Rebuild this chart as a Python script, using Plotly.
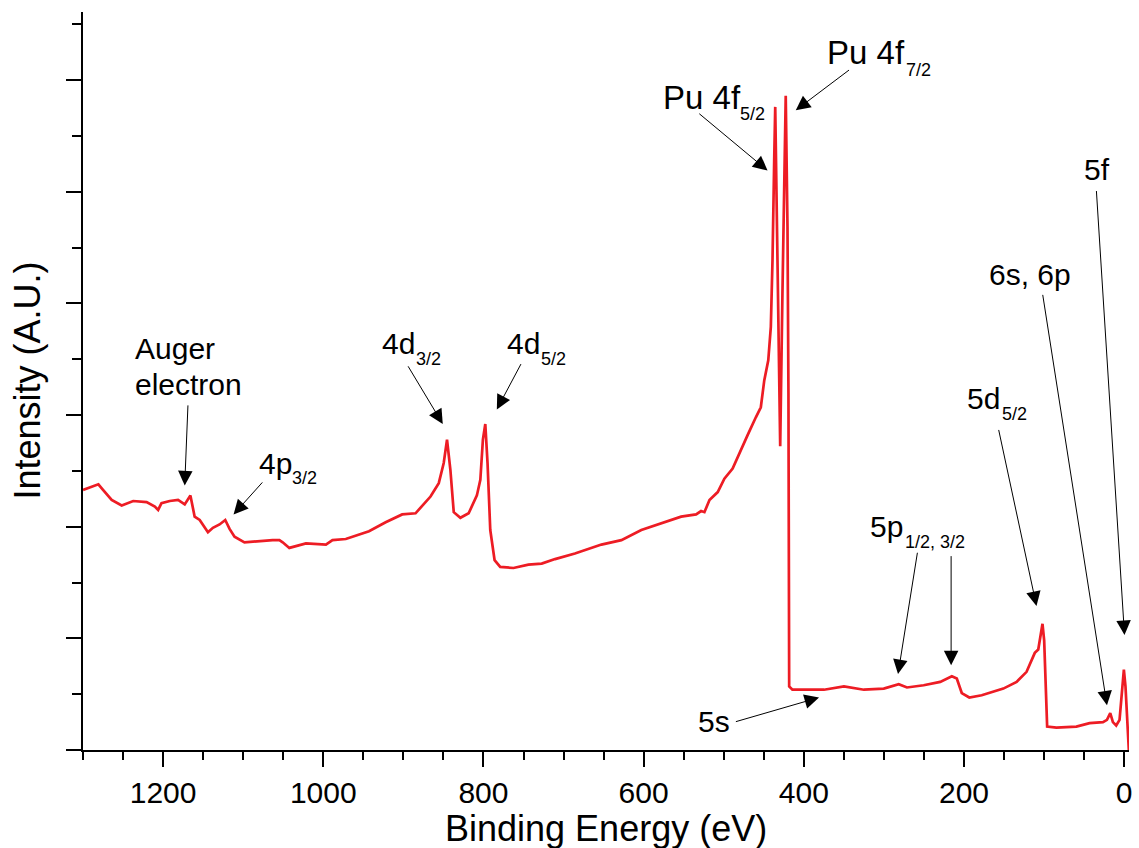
import plotly.graph_objects as go

# ---------------- data ----------------
energy = [1300, 1291.2, 1280.8, 1275, 1264.2, 1251.7, 1237.3, 1220.6, 1210.3, 1206.2,
          1202, 1191.7, 1181.3, 1173, 1165.9, 1160.6, 1154.3, 1144, 1137.8, 1129.5,
          1122.4, 1117, 1110.8, 1098.4, 1079.7, 1071.4, 1063.2, 1054.8, 1050.7, 1042.4,
          1021.6, 996.7, 988.5, 971.9, 951.2, 942.9, 922.1, 901.5, 884.8, 866.1,
          855.8, 849.6, 845.5, 841.3, 837.1, 828.8, 818.5, 808.2, 803.9, 800.7,
          797.7, 794.9, 791.5, 786.1, 779.1, 762.5, 743.9, 727.3, 710.6, 685.8,
          652.7, 627.8, 602.9, 578.1, 553.2, 534.5, 528.3, 524.1, 517.8, 507.5,
          499.2, 488.9, 480.5, 470.2, 459.9, 453.7, 449.4, 444.4, 441.2, 439.1,
          437, 435.7, 432.9, 430.8, 429.5, 426.7, 423.8, 422.6, 420.4, 419.2,
          418.3, 414.2, 391.5, 374.8, 349.9, 325, 300.2, 281.5, 271.2, 250.4,
          229.7, 215.2, 209, 202.8, 193.4, 177.9, 150.9, 134.3, 121.9, 115.7,
          111.6, 107.3, 104.5, 102, 99.9, 97.9, 96.2, 84.6, 59.7, 43.2,
          26.5, 21.5, 17.4, 14.1, 10, 5.8, 2.9, 0.4, -1.6, -3.7, -5.8]

intensity = [2.33, 2.35, 2.38, 2.33, 2.24, 2.19, 2.23, 2.22, 2.18, 2.15,
             2.21, 2.23, 2.24, 2.20, 2.28, 2.09, 2.06, 1.95, 1.99, 2.02,
             2.06, 1.98, 1.91, 1.86, 1.87, 1.88, 1.88, 1.88, 1.86, 1.81,
             1.85, 1.84, 1.88, 1.89, 1.94, 1.96, 2.04, 2.11, 2.12, 2.27,
             2.39, 2.57, 2.78, 2.51, 2.13, 2.08, 2.12, 2.28, 2.42, 2.78,
             2.92, 2.57, 1.97, 1.70, 1.64, 1.63, 1.66, 1.67, 1.71, 1.76,
             1.84, 1.88, 1.97, 2.03, 2.09, 2.11, 2.14, 2.13, 2.24, 2.31,
             2.43, 2.52, 2.66, 2.82, 2.98, 3.07, 3.31, 3.49, 3.79, 4.39,
             5.28, 5.76, 4.39, 3.20, 2.72, 4.09, 5.28, 5.86, 4.69, 3.20,
             0.57, 0.54, 0.54, 0.54, 0.57, 0.54, 0.55, 0.59, 0.56, 0.58,
             0.61, 0.66, 0.64, 0.51, 0.47, 0.49, 0.55, 0.61, 0.70, 0.81,
             0.87, 0.90, 1.04, 1.13, 0.98, 0.60, 0.21, 0.20, 0.21, 0.24,
             0.25, 0.27, 0.33, 0.25, 0.22, 0.27, 0.51, 0.72, 0.57, 0.21, 0.0]

# arrows: head (x, y) and tail (ax, ay) in data units
arrow_head_x = [1173, 1112, 850.8, 783.3, 445.3, 410.1, 381, 282.4, 216.1, 109.5, 21.5, -0.4]
arrow_head_y = [2.37, 2.11, 2.92, 3.05, 5.19, 5.73, 0.47, 0.68, 0.76, 1.29, 0.40, 1.03]
arrow_tail_x = [1168.9, 1074.4, 895.2, 752.2, 532.4, 341.7, 486.7, 257.9, 216.1, 157.1, 102, 34.8]
arrow_tail_y = [3.10, 2.41, 3.45, 3.47, 5.71, 6.10, 0.25, 1.78, 1.75, 2.88, 4.09, 5.02]

# main labels
label_text = ["Auger", "electron", "4p", "4d", "4d", "Pu 4f", "Pu 4f", "5s", "5p", "5d", "6s, 6p", "5f"]
label_x = [1237.7, 1237.7, 1082.2, 928.8, 773.3, 578.4, 373.2, 534.9, 320.1, 198.2, 170.8, 52.6]
label_y = [3.600, 3.271, 2.570, 3.638, 3.638, 5.847, 6.250, 0.257, 2.003, 3.152, 4.256, 5.196]
label_size = [30, 30, 30, 30, 30, 33, 33, 30, 30, 30, 30, 30]

# subscripts
sub_text = ["3/2", "3/2", "5/2", "5/2", "7/2", "1/2, 3/2", "5/2"]
sub_x = [1041.8, 886.3, 730.8, 482.0, 274.8, 276.8, 154.5]
sub_y = [2.434, 3.502, 3.502, 5.696, 6.090, 1.861, 3.010]

x_title = "Binding Energy (eV)"
y_title = "Intensity (A.U.)"

FONT = "Liberation Sans, Arial, sans-serif"

fig = go.Figure()
fig.add_trace(go.Scatter(x=energy, y=intensity, mode="lines",
                         line=dict(color="#ED1C24", width=2.7),
                         hoverinfo="skip", showlegend=False))

for hx, hy, tx, ty in zip(arrow_head_x, arrow_head_y, arrow_tail_x, arrow_tail_y):
    fig.add_annotation(x=hx, y=hy, ax=tx, ay=ty, xref="x", yref="y",
                       axref="x", ayref="y", text="", showarrow=True,
                       arrowhead=2, arrowsize=2.9, arrowwidth=1, arrowcolor="black")

for t, x, y, s in zip(label_text, label_x, label_y, label_size):
    fig.add_annotation(x=x, y=y, xref="x", yref="y", text=t, showarrow=False,
                       xanchor="left", yanchor="middle",
                       font=dict(family=FONT, size=s, color="black"))

for t, x, y in zip(sub_text, sub_x, sub_y):
    fig.add_annotation(x=x, y=y, xref="x", yref="y", text=t, showarrow=False,
                       xanchor="left", yanchor="middle",
                       font=dict(family=FONT, size=18, color="black"))

fig.add_annotation(x=0.5, y=-0.1057, xref="paper", yref="paper", text=x_title,
                   showarrow=False, xanchor="center", yanchor="middle", borderpad=0,
                   font=dict(family=FONT, size=36, color="black"))
fig.add_annotation(x=-0.054, y=0.5, xref="paper", yref="paper", text=y_title,
                   showarrow=False, xanchor="center", yanchor="middle", textangle=-90,
                   font=dict(family=FONT, size=36, color="black"))

fig.update_xaxes(range=[1300, -6], autorange=False, showline=True, linecolor="black",
                 linewidth=2, ticks="outside", ticklen=15, tickwidth=2, tickcolor="black",
                 tick0=0, dtick=200, showgrid=False, zeroline=False,
                 tickfont=dict(family=FONT, size=30, color="black"),
                 minor=dict(ticks="outside", ticklen=8, tickwidth=2, tickcolor="black",
                            dtick=50, tick0=0, showgrid=False))
fig.update_yaxes(range=[0, 6.61], autorange=False, showline=True, linecolor="black",
                 linewidth=2, ticks="outside", ticklen=15, tickwidth=2, tickcolor="black",
                 tick0=0, dtick=1, showticklabels=False, showgrid=False, zeroline=False,
                 minor=dict(ticks="outside", ticklen=9, tickwidth=2, tickcolor="black",
                            dtick=0.5, tick0=0, showgrid=False))

fig.update_layout(width=1139, height=848, margin=dict(l=83, r=6, t=12, b=98),
                  plot_bgcolor="white", paper_bgcolor="white",
                  font=dict(family=FONT, color="black"), showlegend=False)

fig.write_html("out.html")
